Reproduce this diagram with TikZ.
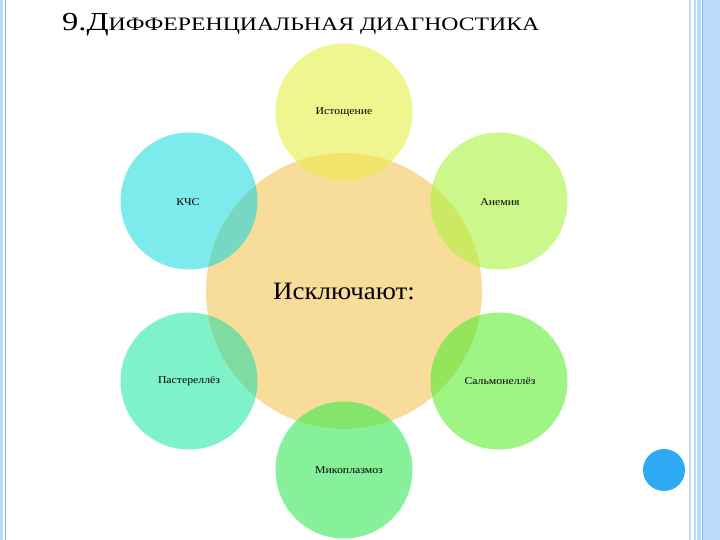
\documentclass[tikz,border=0pt]{standalone}
\usepackage{fontspec}
\setmainfont{Liberation Serif}
\newfontfamily\wideserif[FakeStretch=1.25]{Liberation Serif}
\newfontfamily\midserif[FakeStretch=1.08]{Liberation Serif}
\newfontfamily\labserif[FakeStretch=1.12]{Liberation Serif}
\definecolor{cYel}{HTML}{EFF58F}
\definecolor{cCyan}{HTML}{7DEBEC}
\definecolor{cLime}{HTML}{CCF78A}
\definecolor{cMint}{HTML}{7EF2C8}
\definecolor{cGreen}{HTML}{9EF584}
\definecolor{cGreen2}{HTML}{86F09A}
\definecolor{cCenter}{HTML}{F7DC9A}
\definecolor{oYel}{HTML}{F0E46C}
\definecolor{oCyan}{HTML}{76D8C2}
\definecolor{oLime}{HTML}{CDE862}
\definecolor{oMint}{HTML}{7EDCA0}
\definecolor{oGreen}{HTML}{94E45C}
\definecolor{oGreen2}{HTML}{84E46C}
\definecolor{cBand}{HTML}{BBDCF8}
\definecolor{cLine}{HTML}{7FB8E8}
\definecolor{cDot}{HTML}{2EAAF5}
\tikzset{
  sat/.style={circle, minimum size=137pt, inner sep=0pt, font=\labserif\fontsize{10.5}{12}\selectfont},
  ctr/.style={circle, minimum size=276pt, inner sep=0pt, fill=cCenter},
}
\begin{document}
\begin{tikzpicture}[x=1pt,y=-1pt]
\useasboundingbox (0,0) rectangle (720,540);
\fill[white] (0,0) rectangle (720,540);
% right border bands
\fill[cBand] (689,0) rectangle (691,540);
\fill[cBand] (694,0) rectangle (696,540);
\fill[cBand] (697,0) rectangle (701,540);
\fill[cLine] (701.5,0) rectangle (702.5,540);
\fill[cBand] (703,0) rectangle (720,540);
% left border bands
\fill[cBand] (0,0) rectangle (3,540);
\fill[cLine] (4.5,0) rectangle (5.5,540);
% title
\node[anchor=base west, inner sep=0pt] (title) at (62,31)
  {\wideserif\fontsize{26}{30}\selectfont 9.Д\fontsize{19}{22}\selectfont ИФФЕРЕНЦИАЛЬНАЯ ДИАГНОСТИКА};
% satellites (shapes)
\fill[cYel] (344,112) circle[radius=68.5];
\fill[cCyan] (189,201) circle[radius=68.5];
\fill[cLime] (499,201) circle[radius=68.5];
\fill[cMint] (189,381) circle[radius=68.5];
\fill[cGreen] (499,381) circle[radius=68.5];
\fill[cGreen2] (344,470) circle[radius=68.5];
% center
\node[ctr] (c) at (344,291) {};
% overlaps
\begin{scope}
  \clip (344,291) circle[radius=138];
  \fill[oYel] (344,112) circle[radius=68.5];
  \fill[oCyan] (189,201) circle[radius=68.5];
  \fill[oLime] (499,201) circle[radius=68.5];
  \fill[oMint] (189,381) circle[radius=68.5];
  \fill[oGreen] (499,381) circle[radius=68.5];
  \fill[oGreen2] (344,470) circle[radius=68.5];
\end{scope}
\node[font=\midserif\fontsize{25}{28}\selectfont] (ct) at (344,291) {Исключают:};
% satellite labels
\node[sat] (s1) at (344,112) {Истощение};
\node[sat] (s2) at (188,202) {КЧС};
\node[sat] (s3) at (500,202) {Анемия};
\node[sat] (s4) at (189,381) {Пастереллёз};
\node[sat] (s5) at (500,381) {Сальмонеллёз};
\node[sat] (s6) at (349,470) {Микоплазмоз};
% blue dot
\node[circle, fill=cDot, minimum size=42pt, inner sep=0pt] (dot) at (664,470) {};
\end{tikzpicture}
\end{document}
